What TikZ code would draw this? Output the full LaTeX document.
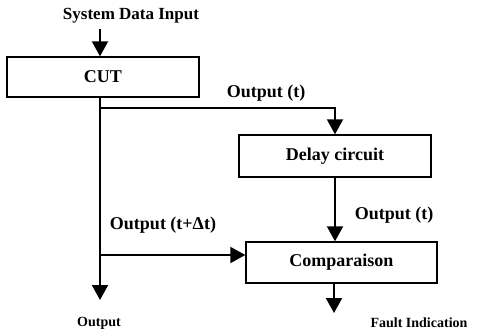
\documentclass[tikz,border=0pt]{standalone}
\usepackage{fontspec}
\setmainfont{Liberation Serif}
\usetikzlibrary{arrows.meta}
\begin{document}
\begin{tikzpicture}[x=1pt,y=-1pt,
  blk/.style={draw,line width=1.4pt,inner sep=0pt,font=\fontsize{18}{20}\selectfont\bfseries},
  lbl/.style={inner sep=0pt,font=\fontsize{18}{20}\selectfont\bfseries},
  sml/.style={inner sep=0pt,font=\fontsize{14}{16}\selectfont\bfseries},
  arr/.style={line width=2pt,-{Triangle[length=15pt,width=16pt]}}]
\useasboundingbox (0,0) rectangle (479,333);
% boxes
\node[blk,minimum width=192pt,minimum height=40pt] (cut) at (103,77) {CUT};
\node[blk,minimum width=192pt,minimum height=42pt] (delay) at (335,156) {Delay circuit};
\node[blk,minimum width=191pt,minimum height=41pt] (comp) at (341.5,262.5) {Comparaison};
% labels
\node[lbl] (sdi) at (131,16) {\fontsize{17}{19}\selectfont System Data Input};
\node[lbl] (lt1) at (266,93) {Output (t)};
\node[lbl] (lt2) at (394,215) {Output (t)};
\node[lbl] (ltd) at (163,225) {Output (t+Δt)};
\node[sml] (outl) at (99,323) {Output};
\node[sml] (faultl) at (419,323) {Fault Indication};
% coordinates
\coordinate (inTop) at (100,29);
\coordinate (j1) at (100,108);
\coordinate (j2) at (100,255);
\coordinate (outEnd) at (100,300);
\coordinate (faultEnd) at (334,313);
% connectors
\draw[arr] (inTop) -- (inTop |- cut.north);
\draw[arr] (j1 |- cut.south) -- (outEnd);
\draw[arr] (j1) -| (delay.north);
\draw[arr] (delay.south) -- (delay.south |- comp.north);
\draw[arr] (j2) -- (j2 -| comp.west);
\draw[arr] (faultEnd |- comp.south) -- (faultEnd);
\end{tikzpicture}
\end{document}
